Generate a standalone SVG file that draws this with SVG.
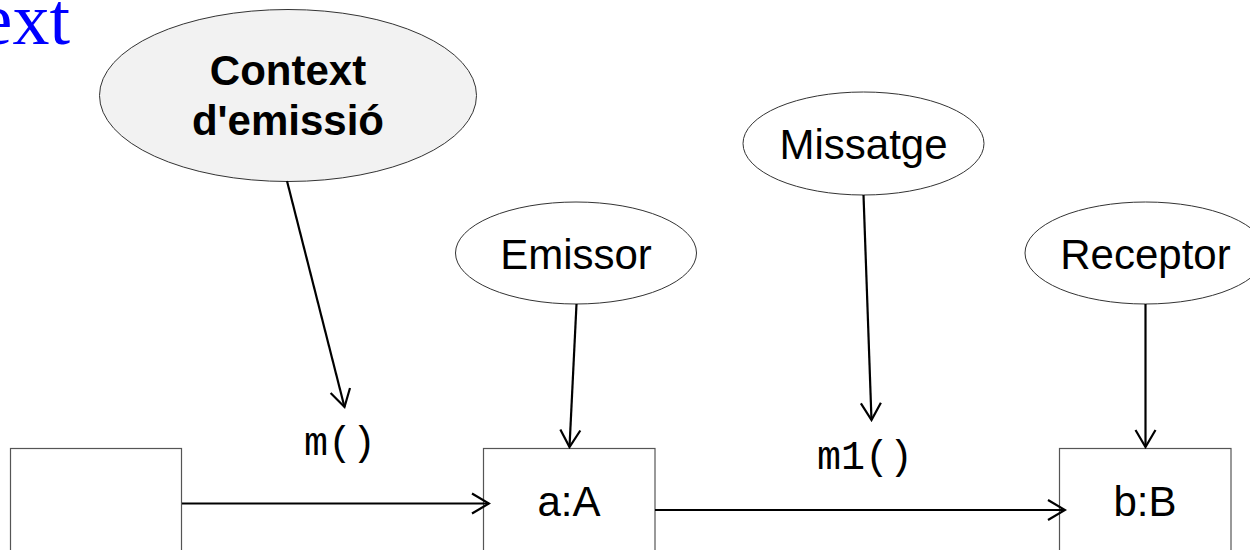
<svg xmlns="http://www.w3.org/2000/svg" width="1250" height="550" viewBox="0 0 1250 550">
<style>
.lbl{font-family:"Liberation Sans",Arial,sans-serif;font-size:42px;fill:#000;text-anchor:middle}
.bold{font-weight:bold}
.code{font-family:"Liberation Mono","Courier New",monospace;font-size:40px;fill:#000}
.ell{stroke:#333;stroke-width:1;fill:#fff}
.box{stroke:#555;stroke-width:1.2;fill:#fff}
.conn{stroke:#000;stroke-width:2.2;fill:none}
</style>
<defs>
<marker id="arr" markerUnits="userSpaceOnUse" viewBox="-19 -12 21 24" markerWidth="21" markerHeight="24" refX="0" refY="0" orient="auto">
<path d="M-17,-10 L0,0 L-17,10" fill="none" stroke="#000" stroke-width="2.2"/>
</marker>
</defs>
<rect width="1250" height="550" fill="#fff"/>
<text id="title" x="70" y="44" font-family="'Liberation Serif','Times New Roman',serif" font-size="74" fill="#0000ff" text-anchor="end">ext</text>
<g id="context">
<ellipse class="ell" cx="288" cy="95.5" rx="188.5" ry="86" style="fill:#f2f2f2"/>
<text class="lbl bold" x="288" y="85">Context</text>
<text class="lbl bold" x="288" y="135">d'emissió</text>
</g>
<g id="missatge">
<ellipse class="ell" cx="863.5" cy="143.5" rx="120.5" ry="51.5"/>
<text class="lbl" x="863.5" y="159">Missatge</text>
</g>
<g id="emissor">
<ellipse class="ell" cx="576" cy="253" rx="120.5" ry="51"/>
<text class="lbl" x="576" y="269">Emissor</text>
</g>
<g id="receptor">
<ellipse class="ell" cx="1145.5" cy="253" rx="120.5" ry="51"/>
<text class="lbl" x="1145.5" y="269">Receptor</text>
</g>
<g id="sender">
<rect class="box" x="10.5" y="448.5" width="171" height="120"/>
</g>
<g id="a">
<rect class="box" x="483.5" y="448.5" width="171.5" height="120"/>
<text class="lbl" x="569" y="516">a:A</text>
</g>
<g id="b">
<rect class="box" x="1059.5" y="448.5" width="171.5" height="120"/>
<text class="lbl" x="1145" y="516">b:B</text>
</g>
<g id="connectors">
<line class="conn" x1="287" y1="181" x2="344.5" y2="407" marker-end="url(#arr)"/>
<line class="conn" x1="863.5" y1="195" x2="871.5" y2="420" marker-end="url(#arr)"/>
<line class="conn" x1="576.5" y1="304" x2="569.5" y2="447" marker-end="url(#arr)"/>
<line class="conn" x1="1145.5" y1="304" x2="1145.5" y2="447" marker-end="url(#arr)"/>
<line class="conn" x1="182" y1="503.5" x2="489" y2="503.5" marker-end="url(#arr)"/>
<line class="conn" x1="655" y1="510" x2="1065" y2="510" marker-end="url(#arr)"/>
</g>
<g id="labels">
<text class="code" x="304" y="455">m()</text>
<text class="code" x="817" y="469">m1()</text>
</g>
</svg>
